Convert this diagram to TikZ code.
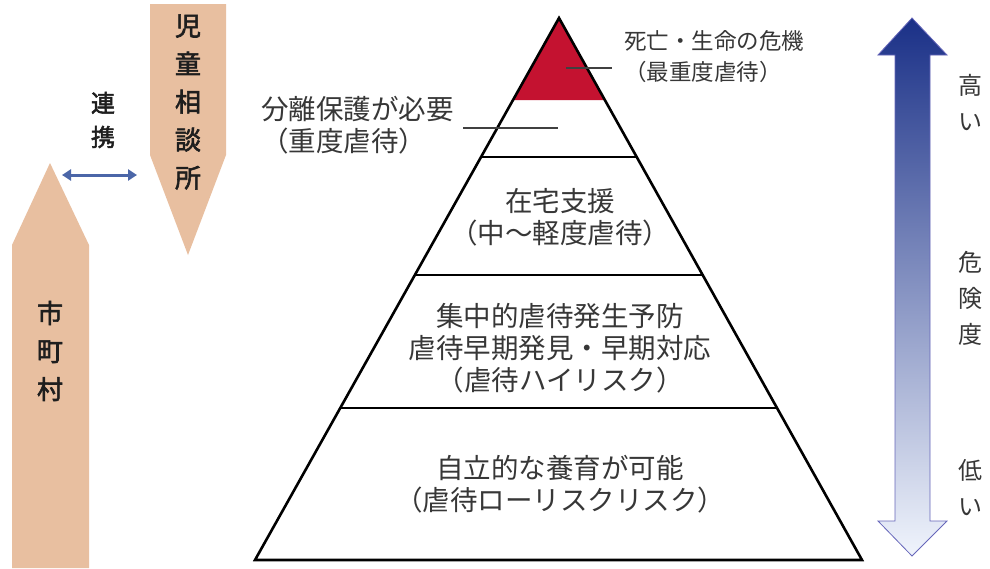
\documentclass[tikz,border=0pt]{standalone}
\usepackage{fontspec}
\newfontfamily\jp{Noto Sans CJK JP}
\newfontfamily\jpb{Noto Sans CJK JP}[FakeBold=2.2]
\usetikzlibrary{arrows.meta,calc}
\definecolor{peach}{RGB}{232,191,160}
\definecolor{riskred}{RGB}{196,18,48}
\definecolor{linkblue}{RGB}{75,102,168}
\definecolor{navy}{RGB}{26,48,135}
\definecolor{midblue}{RGB}{135,155,210}
\definecolor{paleblue}{RGB}{240,244,252}
\definecolor{txt}{RGB}{55,55,55}
\definecolor{dtxt}{RGB}{30,30,30}
\tikzset{
  pyr/.style={draw=black, line width=2.6pt, line join=miter},
  pyrtext/.style={align=center, text=txt, inner sep=0pt, font=\jp\fontsize{27.5}{32}\selectfont},
  sidelbl/.style={align=left, text=txt, inner sep=0pt},
  leader/.style={draw=black!75, line width=1.1pt},
  bandarrow/.style={fill=peach, draw=none},
  bandtext/.style={align=center, text=dtxt, inner sep=0pt, font=\jpb\fontsize{26}{38}\selectfont},
  risktext/.style={align=center, text=txt, inner sep=0pt, font=\jp\fontsize{24}{36}\selectfont},
  linkarrow/.style={draw=linkblue, line width=3pt, {Triangle[length=9pt,width=11pt]}-{Triangle[length=9pt,width=11pt]}}
}
\begin{document}
\begin{tikzpicture}[x=1pt,y=-1pt]
\useasboundingbox (0,0) rectangle (990,568);
\fill[white] (0,0) rectangle (990,568);

% left arrows
\path[bandarrow] (150,4) -- (226,4) -- (226,155) -- (188,255) -- (150,155) -- cycle;
\node[bandtext] (jido) at (188,102) {児\\童\\相\\談\\所};
\path[bandarrow] (12,568) -- (12,245) -- (50,163) -- (89,245) -- (89,568) -- cycle;
\node[bandtext] (shi) at (50,351) {市\\町\\村};
\node[bandtext, font=\jpb\fontsize{24}{34}\selectfont] (renkei) at (103,120) {連\\携};
\coordinate (la) at (62,175);
\coordinate (lb) at (137,175);
\draw[linkarrow] (la) -- (lb);

% pyramid
\coordinate (apex) at (559,18);
\coordinate (bl) at (255,560);
\coordinate (br) at (862,560);
\coordinate (l1) at ($(apex)!0.1513!(bl)$);
\coordinate (r1) at ($(apex)!0.1513!(br)$);
\coordinate (l2) at ($(apex)!0.2565!(bl)$);
\coordinate (r2) at ($(apex)!0.2565!(br)$);
\coordinate (l3) at ($(apex)!0.4742!(bl)$);
\coordinate (r3) at ($(apex)!0.4742!(br)$);
\coordinate (l4) at ($(apex)!0.7196!(bl)$);
\coordinate (r4) at ($(apex)!0.7196!(br)$);
\fill[riskred] (apex) -- (l1) -- (r1) -- cycle;
\draw[pyr] (l2) -- (r2);
\draw[pyr] (l3) -- (r3);
\draw[pyr] (l4) -- (r4);
\draw[pyr] (apex) -- (bl) -- (br) -- cycle;

\node[pyrtext] (t3) at (560,217) {在宅支援\\（中〜軽度虐待）};
\node[pyrtext] (t4) at (560,348) {集中的虐待発生予防\\虐待早期発見・早期対応\\（虐待ハイリスク）};
\node[pyrtext] (t5) at (560,484) {自立的な養育が可能\\（虐待ローリスクリスク）};

% side labels
\node[sidelbl, anchor=west, font=\jp\fontsize{22.5}{31}\selectfont] (top) at (624,57) {死亡・生命の危機\\（最重度虐待）};
\coordinate (ld1a) at (566,68);
\coordinate (ld1b) at (612,68);
\draw[leader] (ld1a) -- (ld1b);
\node[sidelbl, anchor=west, font=\jp\fontsize{27.5}{32}\selectfont] (sep) at (261,125) {分離保護が必要\\（重度虐待）};
\coordinate (ld2a) at (463,128);
\coordinate (ld2b) at (558,128);
\draw[leader] (ld2a) -- (ld2b);

% risk arrow
\shadedraw[top color=navy, middle color=midblue, bottom color=paleblue, draw=black!45!blue!60, line width=0.8pt]
  (912,18) -- (947,55) -- (930,55) -- (930,521) -- (947,521) -- (912,556)
  -- (878,521) -- (895,521) -- (895,55) -- (878,55) -- cycle;
\node[risktext] (hi) at (970,103) {高\\い};
\node[risktext] (mid) at (970,298) {危\\険\\度};
\node[risktext] (lo) at (970,488) {低\\い};
\end{tikzpicture}
\end{document}
